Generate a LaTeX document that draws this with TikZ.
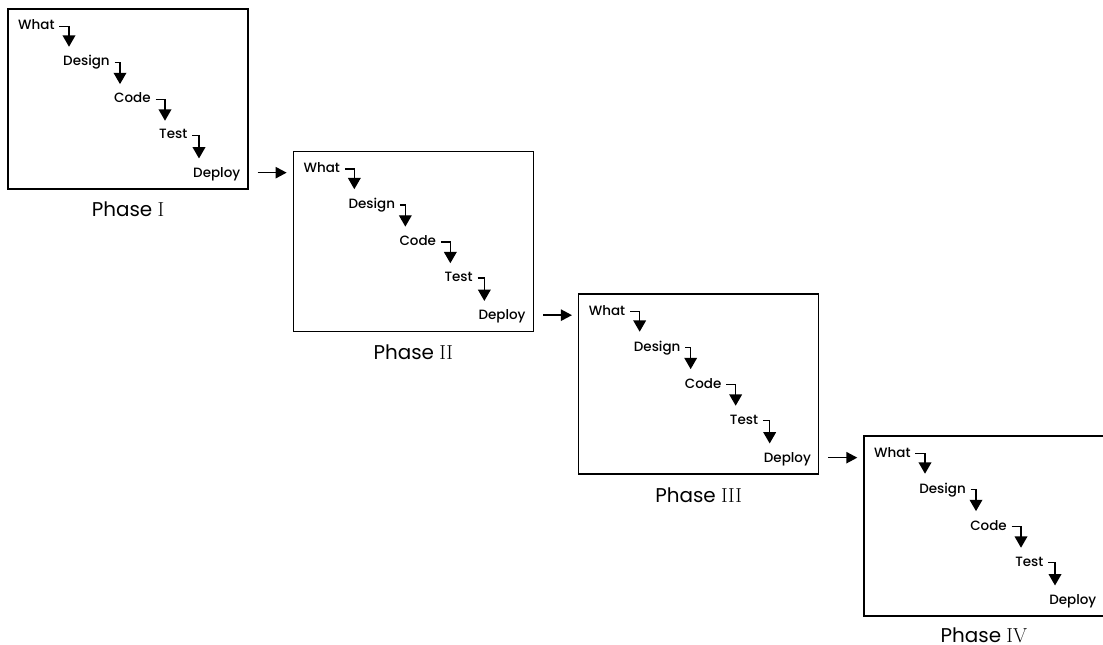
\documentclass[tikz,border=0pt]{standalone}
\usepackage[no-math]{fontspec}
\setmainfont{Poppins}
\newfontfamily\stagefont{Poppins Medium}
\usepackage{tikz}
\usetikzlibrary{arrows.meta}

\begin{document}
\begin{tikzpicture}[x=1cm,y=1cm,
  phasebox/.style={draw,line width=1.2pt,minimum width=7.2cm,minimum height=5.4cm,inner sep=0pt},
  stage/.style={anchor=base west,inner sep=0pt,font=\stagefont\fontsize{11.5}{12}\selectfont},
  stepline/.style={line width=1.2pt,-{Triangle[width=0.38cm,length=0.34cm]}},
  flow/.style={line width=1.2pt,-{Triangle[width=0.34cm,length=0.33cm]}},
  phaselabel/.style={anchor=base,inner sep=0pt,font=\fontsize{17}{18}\selectfont}]
\useasboundingbox (0,0) rectangle (33.09,-19.35);
% Phase I
\begin{scope}[shift={(0.24,-0.27)}]
\node[phasebox] (p1) at (3.6,-2.7) {};
\node[stage] (w1) at (0.30,-0.63) {What};
\node[stage] (g1) at (1.65,-1.71) {Design};
\node[stage] (c1) at (3.18,-2.82) {Code};
\node[stage] (t1) at (4.53,-3.90) {Test};
\node[stage] (d1) at (5.55,-5.05) {Deploy};
\draw[stepline] ([xshift=0.14cm,yshift=0.11cm]w1.base east) -| ([xshift=0.18cm,yshift=0.26cm]g1.north west);
\draw[stepline] ([xshift=0.14cm,yshift=0.11cm]g1.base east) -| ([xshift=0.18cm,yshift=0.26cm]c1.north west);
\draw[stepline] ([xshift=0.14cm,yshift=0.11cm]c1.base east) -| ([xshift=0.18cm,yshift=0.26cm]t1.north west);
\draw[stepline] ([xshift=0.14cm,yshift=0.11cm]t1.base east) -| ([xshift=0.18cm,yshift=0.26cm]d1.north west);
\node[phaselabel] (l1) at (3.6,-6.24) {Phase $\mathrm{I}$};
\end{scope}
% Phase II
\begin{scope}[shift={(8.80,-4.545)}]
\node[phasebox] (p2) at (3.6,-2.7) {};
\node[stage] (w2) at (0.30,-0.63) {What};
\node[stage] (g2) at (1.65,-1.71) {Design};
\node[stage] (c2) at (3.18,-2.82) {Code};
\node[stage] (t2) at (4.53,-3.90) {Test};
\node[stage] (d2) at (5.55,-5.05) {Deploy};
\draw[stepline] ([xshift=0.14cm,yshift=0.11cm]w2.base east) -| ([xshift=0.18cm,yshift=0.26cm]g2.north west);
\draw[stepline] ([xshift=0.14cm,yshift=0.11cm]g2.base east) -| ([xshift=0.18cm,yshift=0.26cm]c2.north west);
\draw[stepline] ([xshift=0.14cm,yshift=0.11cm]c2.base east) -| ([xshift=0.18cm,yshift=0.26cm]t2.north west);
\draw[stepline] ([xshift=0.14cm,yshift=0.11cm]t2.base east) -| ([xshift=0.18cm,yshift=0.26cm]d2.north west);
\node[phaselabel] (l2) at (3.6,-6.24) {Phase $\mathrm{II}$};
\end{scope}
% Phase III
\begin{scope}[shift={(17.36,-8.82)}]
\node[phasebox] (p3) at (3.6,-2.7) {};
\node[stage] (w3) at (0.30,-0.63) {What};
\node[stage] (g3) at (1.65,-1.71) {Design};
\node[stage] (c3) at (3.18,-2.82) {Code};
\node[stage] (t3) at (4.53,-3.90) {Test};
\node[stage] (d3) at (5.55,-5.05) {Deploy};
\draw[stepline] ([xshift=0.14cm,yshift=0.11cm]w3.base east) -| ([xshift=0.18cm,yshift=0.26cm]g3.north west);
\draw[stepline] ([xshift=0.14cm,yshift=0.11cm]g3.base east) -| ([xshift=0.18cm,yshift=0.26cm]c3.north west);
\draw[stepline] ([xshift=0.14cm,yshift=0.11cm]c3.base east) -| ([xshift=0.18cm,yshift=0.26cm]t3.north west);
\draw[stepline] ([xshift=0.14cm,yshift=0.11cm]t3.base east) -| ([xshift=0.18cm,yshift=0.26cm]d3.north west);
\node[phaselabel] (l3) at (3.6,-6.24) {Phase $\mathrm{III}$};
\end{scope}
% Phase IV
\begin{scope}[shift={(25.92,-13.08)}]
\node[phasebox] (p4) at (3.6,-2.7) {};
\node[stage] (w4) at (0.30,-0.63) {What};
\node[stage] (g4) at (1.65,-1.71) {Design};
\node[stage] (c4) at (3.18,-2.82) {Code};
\node[stage] (t4) at (4.53,-3.90) {Test};
\node[stage] (d4) at (5.55,-5.05) {Deploy};
\draw[stepline] ([xshift=0.14cm,yshift=0.11cm]w4.base east) -| ([xshift=0.18cm,yshift=0.26cm]g4.north west);
\draw[stepline] ([xshift=0.14cm,yshift=0.11cm]g4.base east) -| ([xshift=0.18cm,yshift=0.26cm]c4.north west);
\draw[stepline] ([xshift=0.14cm,yshift=0.11cm]c4.base east) -| ([xshift=0.18cm,yshift=0.26cm]t4.north west);
\draw[stepline] ([xshift=0.14cm,yshift=0.11cm]t4.base east) -| ([xshift=0.18cm,yshift=0.26cm]d4.north west);
\node[phaselabel] (l4) at (3.6,-6.18) {Phase $\mathrm{IV}$};
\end{scope}
% between phases
\draw[flow] ([xshift=0.27cm,yshift=0.14cm]p1.east |- d1.base) -- ([xshift=-0.18cm,yshift=0.14cm]p2.west |- d1.base);
\draw[flow] ([xshift=0.27cm,yshift=0.14cm]p2.east |- d2.base) -- ([xshift=-0.18cm,yshift=0.14cm]p3.west |- d2.base);
\draw[flow] ([xshift=0.27cm,yshift=0.14cm]p3.east |- d3.base) -- ([xshift=-0.18cm,yshift=0.14cm]p4.west |- d3.base);
\end{tikzpicture}
\end{document}
